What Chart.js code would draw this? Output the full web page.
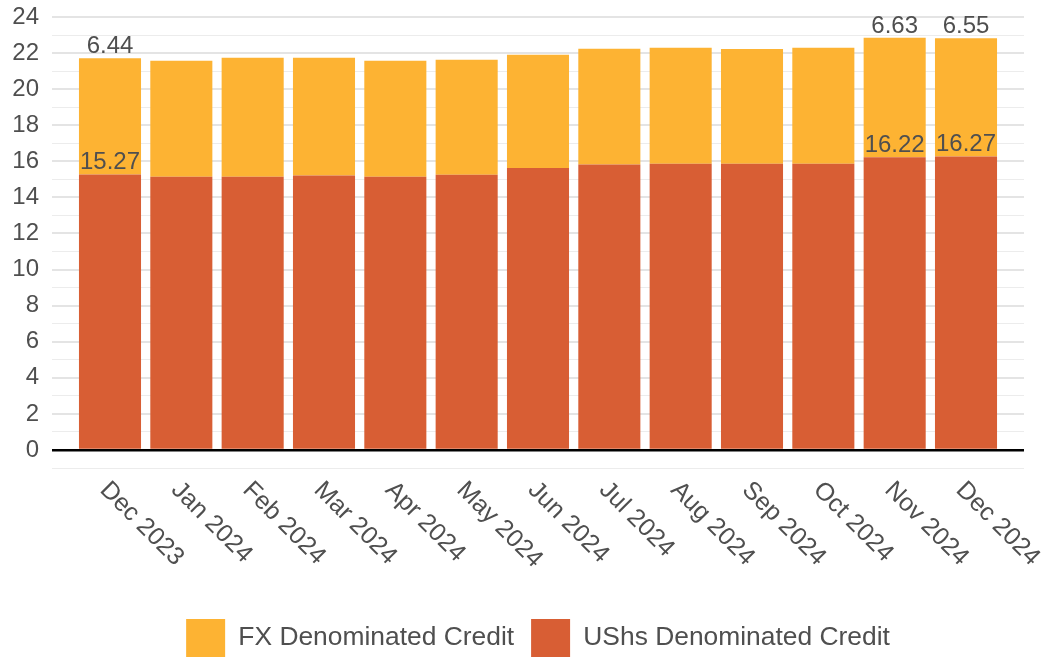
<!DOCTYPE html>
<html>
<head>
<meta charset="utf-8">
<script src="https://cdn.jsdelivr.net/npm/chart.js@4/dist/chart.umd.min.js"></script>
<style>
  html, body { margin: 0; padding: 0; background: #ffffff; }
  #wrap { width: 1048px; height: 657px; position: relative; }
</style>
</head>
<body>
<div id="wrap"><canvas id="c" width="1048" height="657"></canvas></div>
<script>
// ---- data ----
const months = ['Dec 2023', 'Jan 2024', 'Feb 2024', 'Mar 2024', 'Apr 2024', 'May 2024', 'Jun 2024',
                'Jul 2024', 'Aug 2024', 'Sep 2024', 'Oct 2024', 'Nov 2024', 'Dec 2024'];
const ushsCredit = [15.27, 15.15, 15.14, 15.21, 15.15, 15.26, 15.63, 15.82, 15.87, 15.86, 15.87, 16.22, 16.27];
const fxCredit   = [6.44, 6.43, 6.60, 6.53, 6.43, 6.37, 6.28, 6.42, 6.43, 6.37, 6.43, 6.63, 6.55];
const labelledMonths = ['Dec 2023', 'Nov 2024', 'Dec 2024'];
const yTickValues = [0, 2, 4, 6, 8, 10, 12, 14, 16, 18, 20, 22, 24];

const FONT = '"Liberation Sans", Arial, sans-serif';
const TEXT = '#4f4f4f';

const valueLabels = {
  id: 'valueLabels',
  afterDatasetsDraw(chart) {
    const ctx = chart.ctx;
    ctx.save();
    ctx.font = '24px ' + FONT;
    ctx.fillStyle = TEXT;
    ctx.textAlign = 'center';
    ctx.textBaseline = 'alphabetic';
    chart.data.datasets.forEach((ds, d) => {
      const meta = chart.getDatasetMeta(d);
      months.forEach((m, i) => {
        if (!labelledMonths.includes(m)) return;
        const bar = meta.data[i];
        ctx.fillText(ds.data[i].y.toFixed(2), bar.x, bar.y - 5);
      });
    });
    ctx.restore();
  }
};

const xLabels = {
  id: 'xLabels',
  afterDraw(chart) {
    const ctx = chart.ctx;
    const xs = chart.scales.x;
    const top = chart.chartArea.bottom;
    ctx.save();
    ctx.font = '25px ' + FONT;
    ctx.fillStyle = TEXT;
    ctx.textAlign = 'left';
    ctx.textBaseline = 'alphabetic';
    months.forEach((m, i) => {
      const px = xs.getPixelForValue(i);
      ctx.save();
      ctx.translate(px - 11, top + 23);
      ctx.rotate(Math.PI / 4);
      ctx.fillText(m, 0, 0);
      ctx.restore();
    });
    ctx.restore();
  }
};

new Chart(document.getElementById('c'), {
  type: 'bar',
  data: {
    datasets: [
      {
        label: 'UShs Denominated Credit',
        data: ushsCredit.map((v, i) => ({ x: i, y: v })),
        backgroundColor: '#d85e34',
        barPercentage: 0.87,
        categoryPercentage: 1.0
      },
      {
        label: 'FX Denominated Credit',
        data: fxCredit.map((v, i) => ({ x: i, y: v })),
        backgroundColor: '#fdb333',
        barPercentage: 0.87,
        categoryPercentage: 1.0
      }
    ]
  },
  options: {
    responsive: false,
    animation: false,
    devicePixelRatio: 1,
    layout: { padding: { top: 17, right: 24, bottom: -10, left: 0 } },
    plugins: {
      tooltip: { enabled: false },
      legend: {
        position: 'bottom',
        fullSize: false,
        labels: {
          sort: (a, b) => b.datasetIndex - a.datasetIndex,
          boxWidth: 39,
          boxHeight: 38,
          padding: 17,
          color: TEXT,
          font: { family: FONT, size: 26.4 }
        }
      }
    },
    scales: {
      x: {
        type: 'linear',
        stacked: true,
        offset: false,
        min: -0.813,
        max: 12.813,
        afterBuildTicks: (axis) => { axis.ticks = months.map((_, i) => ({ value: i })); },
        afterFit: (axis) => { axis.height = 134; },
        grid: { display: false, offset: false },
        border: { display: false },
        ticks: { display: false }
      },
      y: {
        stacked: true,
        min: -1,
        max: 24,
        afterBuildTicks: (axis) => {
          const t = [];
          for (let v = -1; v <= 24; v++) t.push({ value: v });
          axis.ticks = t;
        },
        afterFit: (axis) => { axis.width = 52; axis.paddingTop = 14; axis.paddingBottom = 0; },
        border: { display: false },
        grid: {
          drawTicks: false,
          color: (c) => c.tick.value === 0 ? '#000000' : (c.tick.value % 2 === 0 ? '#e4e4e4' : '#ececec'),
          lineWidth: (c) => c.tick.value === 0 ? 2.5 : (c.tick.value % 2 === 0 ? 2 : 1)
        },
        ticks: {
          padding: 13,
          color: TEXT,
          font: { family: FONT, size: 24 },
          autoSkip: false,
          callback: (v) => yTickValues.includes(v) ? String(v) : ''
        }
      }
    }
  },
  plugins: [valueLabels, xLabels]
});
</script>
</body>
</html>
